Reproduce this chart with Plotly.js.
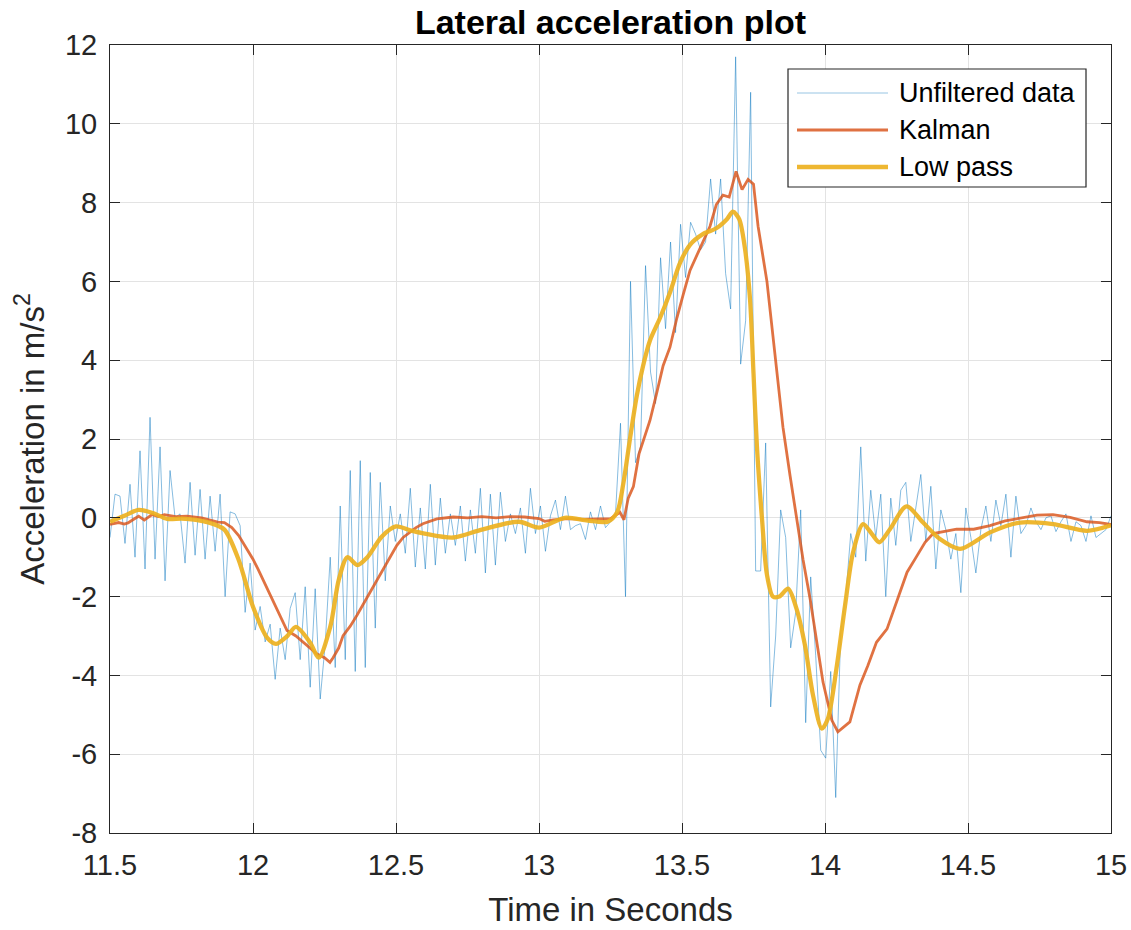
<!DOCTYPE html>
<html>
<head>
<meta charset="utf-8">
<script src="https://cdn.plot.ly/plotly-3.0.1.min.js"></script>
<style>html,body{margin:0;padding:0;background:#fff;}#chart{width:1131px;height:930px;}</style>
</head>
<body>
<div id="chart"></div>
<script>
// Unfiltered samples (sampling interval rawStep starting at rawStart)
const rawStart = 11.5;
const rawStep = 0.0175;
const rawValues = [
  -0.5, 0.6, 0.55, -0.65, 0.85, -1.0, 1.7, -1.3, 2.55, -1.05,
  1.8, -1.6, 1.2, 0.0, 0.1, -1.15, 0.9, -0.95, 0.72, -1.05,
  0.55, -0.85, 0.6, -2.0, 0.15, 0.1, -0.2, -2.4, -1.15, -2.85,
  -2.25, -3.15, -2.7, -4.1, -2.8, -3.6, -2.3, -1.9, -3.6, -1.75,
  -4.3, -1.8, -4.6, -3.2, -1.0, -3.8, 0.3, -3.6, 1.2, -3.9,
  1.45, -3.8, 1.15, -2.8, 0.9, -1.6, 0.3, -0.6, 0.1, -0.9,
  0.75, -1.25, 0.25, -1.3, 0.85, -1.2, 0.5, -0.9, 0.1, -0.7,
  0.3, -1.1, 0.2, -0.9, 0.75, -1.4, 0.6, -1.2, 0.65, -0.6,
  0.1, -0.4, 0.25, -0.9, 0.75, -0.4, 0.3, -0.85, 0.05, 0.45,
  -0.3, 0.55, -0.3, -0.2, -0.15, -0.55, 0.15, -0.3, 0.3, -0.25,
  -0.1, 0.1, 2.4, -2.0, 6.0, 1.4, 1.8, 6.4, 3.7, 2.9,
  6.6, 4.8, 7.0, 4.7, 7.45, 6.1, 7.5, 7.2, 6.8, 7.0,
  8.6, 7.2, 8.6, 6.2, 5.3, 11.7, 3.9, 5.0, 10.8, -1.35,
  -1.35, 1.9, -4.8, -3.0, 0.2, -0.5, -3.3, -2.4, 0.2, -5.2,
  -1.5, -3.5, -5.9, -6.1, -3.9, -7.1, -2.9, -2.0, -0.4, -1.0,
  1.8, -1.1, 0.7, -0.5, 0.6, -2.0, 0.5, -0.7, 0.7, 0.9,
  -0.6, 0.2, 1.1, -0.6, 0.8, -1.3, 0.2, -0.3, -1.05, -0.4,
  -1.9, 0.25, -0.5, -1.4, -0.3, 0.3, -0.6, 0.45, -0.2, 0.6,
  -1.0, 0.55, -0.4, -0.2, 0.25, -0.1, -0.3, 0.0, 0.05, -0.35,
  -0.1, 0.1, -0.6, -0.1, -0.2, -0.6, 0.05, -0.5, -0.4, -0.3,
  0.05
];

const kalmanTime = [
  11.5, 11.53, 11.55, 11.563, 11.58, 11.6, 11.62, 11.647, 11.67, 11.69,
  11.73, 11.77, 11.82, 11.85, 11.877, 11.9, 11.926, 11.95, 11.972, 12.0,
  12.018, 12.04, 12.066, 12.09, 12.119, 12.15, 12.175, 12.2, 12.224, 12.25,
  12.269, 12.28, 12.3, 12.315, 12.34, 12.363, 12.385, 12.409, 12.43, 12.455,
  12.48, 12.503, 12.525, 12.549, 12.57, 12.594, 12.62, 12.643, 12.7, 12.75,
  12.8, 12.85, 12.9, 12.95, 13.0, 13.02, 13.05, 13.1, 13.15, 13.2,
  13.25, 13.283, 13.297, 13.312, 13.33, 13.35, 13.388, 13.41, 13.434, 13.458,
  13.482, 13.503, 13.528, 13.563, 13.598, 13.62, 13.643, 13.665, 13.689, 13.71,
  13.731, 13.75, 13.766, 13.797, 13.832, 13.853, 13.878, 13.9, 13.923, 13.948,
  13.972, 13.993, 14.024, 14.045, 14.087, 14.122, 14.15, 14.18, 14.217, 14.25,
  14.287, 14.322, 14.35, 14.378, 14.426, 14.46, 14.52, 14.577, 14.63, 14.692,
  14.741, 14.797, 14.857, 14.916, 14.96, 15.0
];
const kalmanValues = [
  -0.17, -0.12, -0.16, -0.13, -0.05, 0.04, -0.06, 0.08, 0.03, 0.08,
  0.03, 0.04, 0.0, -0.05, -0.11, -0.12, -0.25, -0.45, -0.72, -1.05,
  -1.31, -1.65, -2.07, -2.45, -2.86, -3.0, -3.16, -3.3, -3.46, -3.55,
  -3.67, -3.55, -3.3, -2.99, -2.75, -2.48, -2.2, -1.89, -1.6, -1.3,
  -1.0, -0.7, -0.5, -0.36, -0.25, -0.15, -0.08, -0.03, 0.02, 0.0,
  0.03, 0.0, 0.03, 0.02, -0.02, -0.09, -0.05, -0.02, -0.04, -0.03,
  -0.02, 0.14, -0.05, 0.5, 0.79, 1.63, 2.47, 3.12, 3.86, 4.33,
  5.07, 5.63, 6.28, 6.84, 7.4, 7.95, 8.19, 8.14, 8.79, 8.33,
  8.59, 8.47, 7.4, 6.0, 3.6, 2.3, 1.06, 0.05, -1.05, -2.06,
  -3.24, -4.17, -5.14, -5.43, -5.18, -4.25, -3.75, -3.16, -2.82, -2.14,
  -1.38, -0.96, -0.62, -0.4, -0.33, -0.29, -0.29, -0.2, -0.08, 0.01,
  0.07, 0.08, 0.01, -0.1, -0.12, -0.17
];

const lowPassTime = [
  11.5, 11.55, 11.6, 11.65, 11.7, 11.75, 11.8, 11.85, 11.9, 11.95,
  12.0, 12.05, 12.08, 12.12, 12.15, 12.2, 12.23, 12.27, 12.3, 12.33,
  12.365, 12.4, 12.45, 12.5, 12.55, 12.6, 12.7, 12.8, 12.93, 13.0,
  13.09, 13.17, 13.24, 13.273, 13.295, 13.318, 13.342, 13.364, 13.388, 13.423,
  13.458, 13.493, 13.528, 13.573, 13.62, 13.657, 13.678, 13.7, 13.72, 13.738,
  13.75, 13.762, 13.78, 13.797, 13.818, 13.84, 13.871, 13.9, 13.93, 13.958,
  13.989, 14.01, 14.04, 14.07, 14.098, 14.133, 14.164, 14.19, 14.227, 14.285,
  14.343, 14.402, 14.472, 14.577, 14.682, 14.797, 14.916, 15.0
];
const lowPassValues = [
  -0.1, 0.05, 0.2, 0.12, -0.03, -0.02, -0.05, -0.13, -0.3, -1.07,
  -2.26, -3.05, -3.2, -3.0, -2.77, -3.17, -3.55, -2.77, -1.57, -1.0,
  -1.2, -1.0, -0.48, -0.22, -0.32, -0.4, -0.5, -0.3, -0.1, -0.25,
  0.0, -0.07, -0.1, 0.14, 0.88, 2.0, 3.1, 3.86, 4.5, 5.07,
  5.72, 6.47, 6.93, 7.2, 7.35, 7.58, 7.77, 7.58, 6.84, 5.53,
  3.67, 1.81, -0.05, -1.44, -2.0, -2.0, -1.8, -2.3, -3.24, -4.5,
  -5.35, -5.1, -3.83, -2.23, -0.88, -0.16, -0.41, -0.62, -0.29, 0.29,
  -0.12, -0.54, -0.79, -0.37, -0.12, -0.16, -0.33, -0.19
];

const seriesNames = ['Unfiltered data', 'Kalman', 'Low pass'];
const xTicks = [11.5, 12, 12.5, 13, 13.5, 14, 14.5, 15];
const xTickText = ['11.5', '12', '12.5', '13', '13.5', '14', '14.5', '15'];
const yTicks = [-8, -6, -4, -2, 0, 2, 4, 6, 8, 10, 12];
const yTickText = ['-8', '-6', '-4', '-2', '0', '2', '4', '6', '8', '10', '12'];

const rawTime = rawValues.map((_, i) => +(rawStart + i * rawStep).toFixed(4));

const FONT = '"Liberation Sans", Arial, Helvetica, sans-serif';
const AX = '#262626';
const colors = ['#0072BD', '#D95319', '#EDB120'];
const widths = [0.6, 2.8, 4.3];
const opac = [0.8, 0.82, 0.92];

const traces = [
  {x: rawTime, y: rawValues, type: 'scatter', mode: 'lines', name: seriesNames[0],
   line: {color: colors[0], width: widths[0]}, opacity: opac[0]},
  {x: kalmanTime, y: kalmanValues, type: 'scatter', mode: 'lines', name: seriesNames[1],
   line: {color: colors[1], width: widths[1]}, opacity: opac[1]},
  {x: lowPassTime, y: lowPassValues, type: 'scatter', mode: 'lines', name: seriesNames[2],
   line: {color: colors[2], width: widths[2], shape: 'spline', smoothing: 0.8}, opacity: opac[2]}
];

// Legend box drawn in paper coordinates (MATLAB-style long line samples)
const plotL = 110, plotR = 1111, plotT = 45, plotB = 833;
const px = x => (x - plotL) / (plotR - plotL);
const py = y => (plotB - y) / (plotB - plotT);
const legRows = [93, 130, 167];
const shapes = [
  {type: 'rect', xref: 'paper', yref: 'paper', x0: px(788), x1: px(1086), y0: py(187), y1: py(69),
   line: {color: AX, width: 1.2}, fillcolor: '#ffffff', layer: 'above'}
];
const annotations = [];
seriesNames.forEach((n, i) => {
  shapes.push({type: 'line', xref: 'paper', yref: 'paper', x0: px(797), x1: px(888),
    y0: py(legRows[i]), y1: py(legRows[i]), layer: 'above',
    line: {color: colors[i], width: i === 0 ? 0.8 : widths[i]}, opacity: i === 0 ? 0.5 : opac[i]});
  annotations.push({xref: 'paper', yref: 'paper', x: px(897), y: py(legRows[i]), xanchor: 'left',
    yanchor: 'middle', text: n, showarrow: false, font: {family: FONT, size: 27, color: '#000'}});
});

const axisCommon = {
  showline: true, linecolor: AX, linewidth: 1, mirror: 'ticks',
  ticks: 'inside', ticklen: 10, tickwidth: 1, tickcolor: AX,
  showgrid: true, gridcolor: '#e3e3e3', gridwidth: 1, zeroline: false,
  tickfont: {family: FONT, size: 29, color: AX}, automargin: false
};

const layout = {
  width: 1131, height: 930,
  margin: {l: 110, r: 20, t: 45, b: 97},
  paper_bgcolor: '#ffffff', plot_bgcolor: '#ffffff',
  showlegend: false,
  title: {text: '<b>Lateral acceleration plot</b>', font: {family: FONT, size: 34, color: '#000'},
          x: 0.5, xref: 'paper', xanchor: 'center', y: 1 - 22 / 930, yref: 'container', yanchor: 'middle'},
  xaxis: Object.assign({}, axisCommon, {
    range: [11.5, 15], tickvals: xTicks, ticktext: xTickText, ticklabelstandoff: 6,
    title: {text: 'Time in Seconds', font: {family: FONT, size: 33, color: AX}, standoff: 18}
  }),
  yaxis: Object.assign({}, axisCommon, {
    range: [-8, 12], tickvals: yTicks, ticktext: yTickText, ticklabelstandoff: 6,
    title: {text: 'Acceleration in m/s<sup>2</sup>', font: {family: FONT, size: 33, color: AX}, standoff: 10}
  }),
  shapes: shapes,
  annotations: annotations
};

Plotly.newPlot('chart', traces, layout, {displayModeBar: false, staticPlot: true});
</script>
</body>
</html>
